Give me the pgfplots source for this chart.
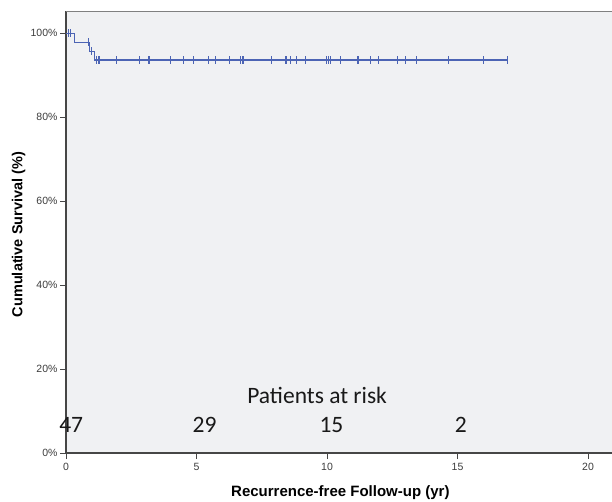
\documentclass[border=0pt]{standalone}
\usepackage{fontspec}
\setmainfont{Liberation Sans}
\newfontfamily\calib{Carlito}
\usepackage{pgfplots}
\pgfplotsset{compat=1.18}
\definecolor{bgc}{RGB}{240,241,243}
\definecolor{kmblue}{RGB}{76,100,180}
\definecolor{axc}{RGB}{70,70,70}
\definecolor{tlc}{RGB}{60,60,60}
\begin{document}
\begin{tikzpicture}
\useasboundingbox (0pt,0pt) rectangle (612pt,501pt);
\clip (0pt,0pt) rectangle (612pt,501pt);
\begin{axis}[
  at={(66pt,48pt)}, anchor=south west,
  scale only axis, width=556pt, height=441.5pt,
  xmin=0, xmax=21.3, ymin=0, ymax=105.2,
  axis x line*=bottom, axis y line*=left,
  axis line style={draw=axc, line width=1.2pt, -},
  axis background/.style={fill=bgc},
  xtick={0,5,10,15,20}, ytick={0,20,40,60,80,100},
  yticklabel={\pgfmathprintnumber{\tick}\%},
  /pgf/number format/assume math mode=true,
  tick align=outside, major tick length=6pt,
  tick style={draw=axc, line width=1pt},
  ticklabel style={font=\fontsize{10.5}{12}\selectfont, text=tlc},
  xticklabel style={yshift=-1pt},
  yticklabel style={xshift=1pt},
  every axis x label/.style={at={(axis description cs:0.4935,-0.099)}, anchor=base},
  every axis y label/.style={at={(axis description cs:-0.0854,0.4949)}, anchor=center, rotate=90},
  xlabel={\fontsize{15}{18}\selectfont\bfseries Recurrence-free Follow-up (yr)},
  ylabel={\fontsize{14.5}{17}\selectfont\bfseries Cumulative Survival (\%)},
  clip=false,
]
\addplot[const plot, color=kmblue, line width=1.2pt] coordinates {
  (0,100) (0.34,97.87) (0.90,95.74) (1.08,93.62) (16.92,93.62)
};
\addplot[only marks, mark=|, mark size=4pt, color=kmblue, mark options={line width=1.1pt}] coordinates {
  (0.09,100) (0.18,100) (0.85,97.87) (0.97,95.74)
  (1.17,93.62) (1.24,93.62) (1.30,93.62) (1.94,93.62) (2.83,93.62) (3.18,93.62)
  (4.01,93.62) (4.49,93.62) (4.90,93.62) (5.45,93.62) (5.73,93.62) (6.25,93.62)
  (6.70,93.62) (6.75,93.62) (6.79,93.62) (7.88,93.62) (8.40,93.62) (8.46,93.62)
  (8.61,93.62) (8.84,93.62) (9.16,93.62) (9.99,93.62) (10.07,93.62) (10.14,93.62)
  (10.52,93.62) (11.16,93.62) (11.20,93.62) (11.66,93.62) (11.98,93.62) (12.71,93.62)
  (13.00,93.62) (13.41,93.62) (14.65,93.62) (15.99,93.62) (16.92,93.62)
};
\draw[draw=gray, line width=1.5pt] (rel axis cs:0,1) -- (rel axis cs:1,1);
\node[anchor=base, font=\calib\fontsize{23.5}{26}\selectfont, text=black!90] at (axis cs:9.62,11.7) {Patients at risk};
\node[anchor=base, font=\calib\fontsize{23.5}{26}\selectfont, text=black!90] at (axis cs:0.2,4.77) {47};
\node[anchor=base, font=\calib\fontsize{23.5}{26}\selectfont, text=black!90] at (axis cs:5.31,4.77) {29};
\node[anchor=base, font=\calib\fontsize{23.5}{26}\selectfont, text=black!90] at (axis cs:10.17,4.77) {15};
\node[anchor=base, font=\calib\fontsize{23.5}{26}\selectfont, text=black!90] at (axis cs:15.13,4.77) {2};
\end{axis}
\end{tikzpicture}
\end{document}
